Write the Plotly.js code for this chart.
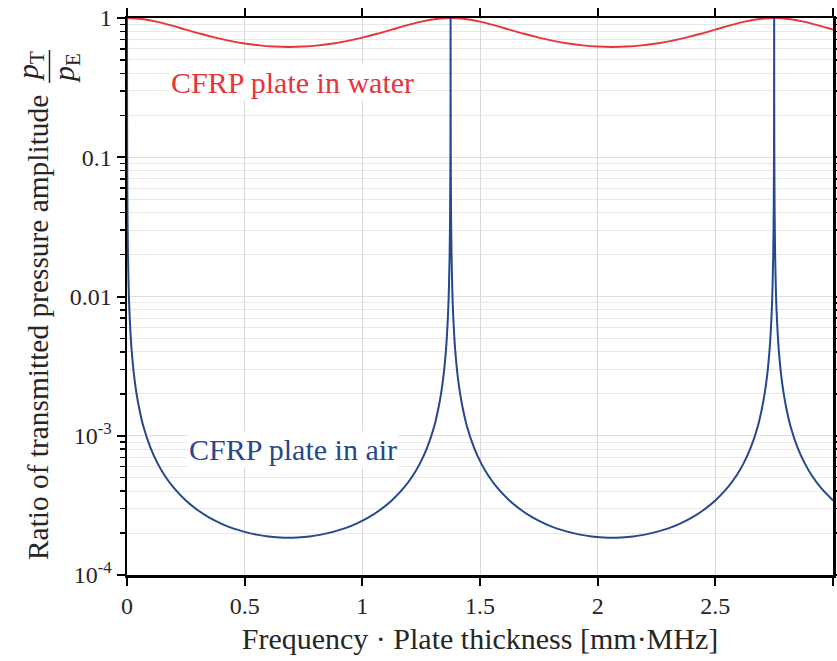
<!DOCTYPE html>
<html>
<head>
<meta charset="utf-8">
<script src="https://cdn.plot.ly/plotly-3.0.1.min.js"></script>
<style>html,body{margin:0;padding:0;background:#fff;}#chart{width:837px;height:661px;}</style>
</head>
<body>
<div id="chart"></div>
<script>
// Frequency · plate thickness [mm·MHz]
var xAir = [0, 0.0001, 0.0002, 0.0005, 0.001, 0.002, 0.004, 0.007, 0.01, 0.015, 0.02, 0.03, 0.04, 0.05, 0.07, 0.1, 0.13, 0.16, 0.2, 0.25, 0.3, 0.35, 0.4, 0.45, 0.5, 0.55, 0.6, 0.65, 0.6875,
  0.725, 0.775, 0.825, 0.875, 0.925, 0.975, 1.025, 1.075, 1.125, 1.175, 1.215, 1.245, 1.275, 1.305, 1.325, 1.335, 1.345, 1.355, 1.36, 1.365, 1.368, 1.371, 1.373, 1.374, 1.3745, 1.3748, 1.3749, 1.375,
  1.3751, 1.3752, 1.3755, 1.376, 1.377, 1.379, 1.382, 1.385, 1.39, 1.395, 1.405, 1.415, 1.425, 1.445, 1.475, 1.505, 1.535, 1.575, 1.625, 1.675, 1.725, 1.775, 1.825, 1.875, 1.925, 1.975, 2.025, 2.0625,
  2.1, 2.15, 2.2, 2.25, 2.3, 2.35, 2.4, 2.45, 2.5, 2.55, 2.59, 2.62, 2.65, 2.68, 2.7, 2.71, 2.72, 2.73, 2.735, 2.74, 2.743, 2.746, 2.748, 2.749, 2.7495, 2.7498, 2.7499, 2.75,
  2.7501, 2.7502, 2.7505, 2.751, 2.752, 2.754, 2.757, 2.76, 2.765, 2.77, 2.78, 2.79, 2.8, 2.82, 2.85, 2.88, 2.91, 2.95, 3.0];
// CFRP plate in air: ratio p_T / p_E
var yAir = [1, 0.63, 0.376, 0.16, 0.0808, 0.0405, 0.0203, 0.0116, 0.0081, 0.00541, 0.00405, 0.0027, 0.00203, 0.00163, 0.00116, 0.000818, 0.000633, 0.000518, 0.00042, 0.000343, 0.000293, 0.000258, 0.000234, 0.000216, 0.000204, 0.000195, 0.000189, 0.000186, 0.000185,
  0.000186, 0.000189, 0.000195, 0.000204, 0.000216, 0.000234, 0.000258, 0.000293, 0.000343, 0.00042, 0.000518, 0.000633, 0.000818, 0.00116, 0.00163, 0.00203, 0.0027, 0.00405, 0.00541, 0.0081, 0.0116, 0.0203, 0.0405, 0.0808, 0.16, 0.376, 0.63, 1,
  0.63, 0.376, 0.16, 0.0808, 0.0405, 0.0203, 0.0116, 0.0081, 0.00541, 0.00405, 0.0027, 0.00203, 0.00163, 0.00116, 0.000818, 0.000633, 0.000518, 0.00042, 0.000343, 0.000293, 0.000258, 0.000234, 0.000216, 0.000204, 0.000195, 0.000189, 0.000186, 0.000185,
  0.000186, 0.000189, 0.000195, 0.000204, 0.000216, 0.000234, 0.000258, 0.000293, 0.000343, 0.00042, 0.000518, 0.000633, 0.000818, 0.00116, 0.00163, 0.00203, 0.0027, 0.00405, 0.00541, 0.0081, 0.0116, 0.0203, 0.0405, 0.0808, 0.16, 0.376, 0.63, 1,
  0.63, 0.376, 0.16, 0.0808, 0.0405, 0.0203, 0.0116, 0.0081, 0.00541, 0.00405, 0.0027, 0.00203, 0.00163, 0.00116, 0.000818, 0.000633, 0.000518, 0.00042, 0.000343];

var xWater = [0, 0.0625, 0.125, 0.1875, 0.25, 0.3125, 0.375, 0.4375, 0.5, 0.5625, 0.625, 0.6875, 0.75, 0.8125, 0.875, 0.9375, 1.0, 1.0625, 1.125, 1.1875, 1.25, 1.3125, 1.375,
  1.4375, 1.5, 1.5625, 1.625, 1.6875, 1.75, 1.8125, 1.875, 1.9375, 2.0, 2.0625, 2.125, 2.1875, 2.25, 2.3125, 2.375, 2.4375, 2.5, 2.5625, 2.625, 2.6875, 2.75,
  2.8125, 2.875, 2.9375, 3.0];
// CFRP plate in water: ratio p_T / p_E
var yWater = [1, 0.984, 0.942, 0.885, 0.825, 0.770, 0.723, 0.685, 0.656, 0.636, 0.624, 0.620, 0.624, 0.636, 0.656, 0.685, 0.723, 0.770, 0.825, 0.885, 0.942, 0.984, 1,
  0.984, 0.942, 0.885, 0.825, 0.770, 0.723, 0.685, 0.656, 0.636, 0.624, 0.620, 0.624, 0.636, 0.656, 0.685, 0.723, 0.770, 0.825, 0.885, 0.942, 0.984, 1,
  0.984, 0.942, 0.885, 0.825];

var xTickVals = [0, 0.5, 1, 1.5, 2, 2.5, 3];
var xTickText = ['0', '0.5', '1', '1.5', '2', '2.5', '3'];
var yTickVals = [0.0001, 0.001, 0.01, 0.1, 1];
var yTickText = ['10<sup>-4</sup>', '10<sup>-3</sup>', '0.01', '0.1', '1'];

var labelWater = 'CFRP plate in water';
var labelAir = 'CFRP plate in air';
var xTitle = 'Frequency · Plate thickness [mm·MHz]';
var yTitle = 'Ratio of transmitted pressure amplitude';

var minorVals = [];
for (var d = -4; d < 0; d++) { for (var k = 2; k < 10; k++) { minorVals.push(k * Math.pow(10, d)); } }

var RED = 'rgb(232,52,58)';
var BLUE = 'rgb(38,72,143)';
var FONT = '"Liberation Serif", "Times New Roman", Times, serif';
var TXT = '#262626';

var traces = [
  {x: xWater, y: yWater, type: 'scatter', mode: 'lines', line: {color: RED, width: 2, shape: 'spline', smoothing: 1}, hoverinfo: 'skip'},
  {x: xAir, y: yAir, type: 'scatter', mode: 'lines', line: {color: BLUE, width: 2, shape: 'spline', smoothing: 1}, hoverinfo: 'skip'}
];

var W = 706, H = 557, L = 127, B = 575;
function px(v) { return (v - L) / W; }
function py(v) { return (B - v) / H; }

var layout = {
  width: 837, height: 661,
  margin: {l: 127, r: 4, t: 18, b: 86, pad: 0},
  paper_bgcolor: '#ffffff', plot_bgcolor: '#ffffff',
  showlegend: false,
  font: {family: FONT, size: 24, color: TXT},
  xaxis: {
    range: [0, 3], tickvals: xTickVals, ticktext: xTickText,
    ticks: 'outside', ticklen: 8, tickwidth: 2, tickcolor: '#000',
    showline: true, linewidth: 2.5, linecolor: '#000', mirror: 'ticks',
    showgrid: true, gridcolor: '#d9d9d9', gridwidth: 1, zeroline: false,
    tickfont: {size: 24, family: FONT, color: TXT},
    title: {text: xTitle, font: {size: 30, family: FONT, color: TXT}, standoff: 10}
  },
  yaxis: {
    type: 'log', range: [-4, 0], tickvals: yTickVals, ticktext: yTickText,
    ticks: 'outside', ticklen: 8, tickwidth: 2, tickcolor: '#000',
    showline: true, linewidth: 2.5, linecolor: '#000', mirror: 'allticks',
    showgrid: true, gridcolor: '#dedede', gridwidth: 1, zeroline: false,
    tickfont: {size: 24, family: FONT, color: TXT},
    minor: {tickvals: minorVals, ticks: 'outside', ticklen: 5, tickwidth: 1.5, tickcolor: '#000', showgrid: true, gridcolor: '#e8e8e8', gridwidth: 1}
  },
  annotations: [
    {xref: 'paper', yref: 'paper', x: px(292.5), y: py(82), text: labelWater, showarrow: false, xanchor: 'center', yanchor: 'middle',
     font: {size: 30, family: FONT, color: RED}, bgcolor: '#ffffff', borderpad: 1},
    {xref: 'paper', yref: 'paper', x: px(292.5), y: py(450), text: labelAir, showarrow: false, xanchor: 'center', yanchor: 'middle',
     font: {size: 30, family: FONT, color: BLUE}, bgcolor: '#ffffff', borderpad: 1},
    {xref: 'paper', yref: 'paper', x: px(38), y: py(328), text: yTitle, textangle: -90, showarrow: false, xanchor: 'center', yanchor: 'middle',
     font: {size: 29.4, family: FONT, color: TXT}},
    {xref: 'paper', yref: 'paper', x: px(30), y: py(66), text: '<i>p</i><sub>T</sub>', textangle: -90, showarrow: false, xanchor: 'center', yanchor: 'middle',
     font: {size: 30, family: FONT, color: TXT}},
    {xref: 'paper', yref: 'paper', x: px(66), y: py(68), text: '<i>p</i><sub>E</sub>', textangle: -90, showarrow: false, xanchor: 'center', yanchor: 'middle',
     font: {size: 30, family: FONT, color: TXT}}
  ],
  shapes: [
    {type: 'line', xref: 'paper', yref: 'paper', x0: px(49.5), x1: px(49.5), y0: py(50), y1: py(83), line: {color: TXT, width: 1.5}}
  ]
};

Plotly.newPlot('chart', traces, layout, {displayModeBar: false, staticPlot: true});
</script>
</body>
</html>
